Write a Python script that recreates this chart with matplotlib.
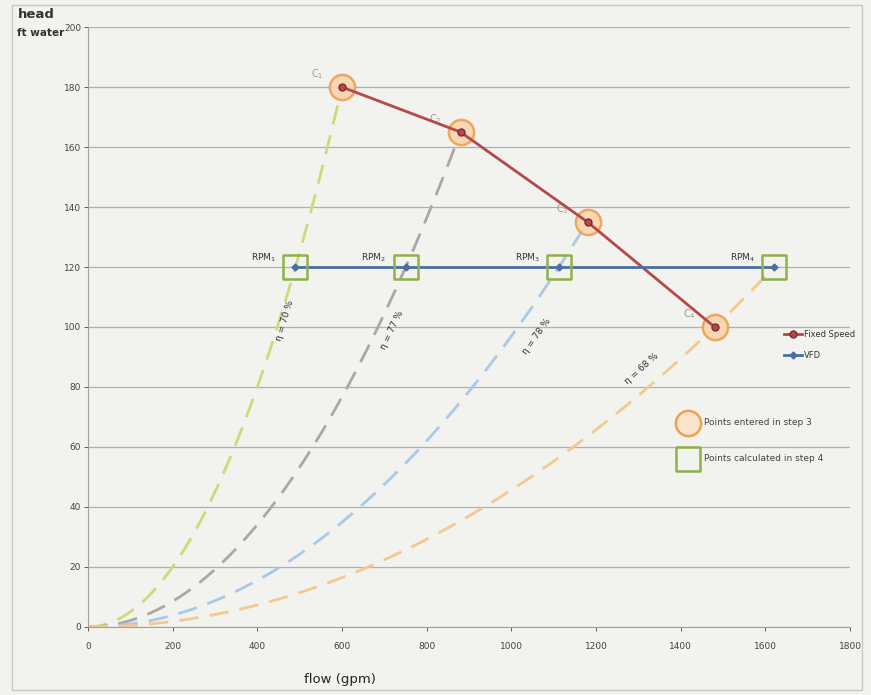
import numpy as np
import matplotlib
matplotlib.use("Agg")
import matplotlib.pyplot as plt
from matplotlib.patches import Rectangle

# Pump data
fixed_flow = [600, 880, 1180, 1480]          # gpm, fixed-speed operating points
fixed_head = [180, 165, 135, 100]            # ft water
point_names = [r"C$_1$", r"C$_2$", r"C$_3$", r"C$_4$"]
rpm_names = [r"RPM$_1$", r"RPM$_2$", r"RPM$_3$", r"RPM$_4$"]
efficiency = [70, 77, 78, 68]                # % along each affinity curve
vfd_head = 120                               # ft water, VFD set point

x_ticks = [0, 200, 400, 600, 800, 1000, 1200, 1400, 1600, 1800]
y_ticks = [0, 20, 40, 60, 80, 100, 120, 140, 160, 180, 200]

# Where the efficiency notes sit (flow, head)
eff_label_flow = [465, 718, 1060, 1307]
eff_label_head = [102, 99, 97, 86]

# VFD flows from the affinity law H ~ Q^2
fixed_flow_a = np.array(fixed_flow, float)
fixed_head_a = np.array(fixed_head, float)
vfd_flow = fixed_flow_a * np.sqrt(vfd_head / fixed_head_a)

bg = "#f2f2ef"
fig = plt.figure(figsize=(8.71, 6.95), dpi=100, facecolor=bg)
ax = fig.add_axes([0.101, 0.098, 0.875, 0.863], facecolor=bg)
ax.set_xlim(0, 1800)
ax.set_ylim(0, 200)

ax.set_yticks(y_ticks)
ax.set_xticks(x_ticks)
ax.set_yticklabels([str(v) for v in y_ticks])
ax.set_xticklabels([str(v) for v in x_ticks])
ax.tick_params(axis="both", labelsize=6.5, colors="#444444", length=3, width=0.6)
ax.tick_params(axis="x", pad=8)
ax.tick_params(axis="y", pad=2)
ax.grid(axis="y", color="#b0b0b0", linewidth=0.9)
ax.set_axisbelow(True)
for side in ("top", "right"):
    ax.spines[side].set_visible(False)
ax.spines["left"].set_color("#a0a0a0")
ax.spines["bottom"].set_color("#a0a0a0")

# Affinity curves through each fixed-speed point
curve_colors = ["#cfd97a", "#a8a8a8", "#a9c9e6", "#f3c990"]
for i in range(4):
    k = fixed_head_a[i] / fixed_flow_a[i] ** 2
    qmax = max(fixed_flow_a[i], vfd_flow[i])
    q = np.linspace(0, qmax, 200)
    ax.plot(q, k * q ** 2, color=curve_colors[i], lw=2.0,
            dashes=(7, 4), zorder=2)

# Operating lines
ax.plot(fixed_flow, fixed_head, color="#b5484a", lw=2.0, marker="o",
        ms=5, mfc="#b5484a", mec="#7a2a2a", zorder=4, label="Fixed Speed")
ax.plot(vfd_flow, [vfd_head] * 4, color="#4a6fa0", lw=2.0, marker="D",
        ms=3.5, mfc="#4a6fa0", zorder=4, label="VFD")

# Highlight markers
ax.scatter(fixed_flow, fixed_head, s=330, facecolor="#f9d4b0",
           edgecolor="#f0a050", linewidth=1.8, zorder=3, alpha=0.9)
ax.scatter(vfd_flow, [vfd_head] * 4, s=300, marker="s", facecolor="none",
           edgecolor="#8fb04a", linewidth=1.8, zorder=5)

for i in range(4):
    ax.annotate(point_names[i], (fixed_flow[i], fixed_head[i]),
                xytext=(-18, 9), textcoords="offset points",
                fontsize=7, color="#9a9a9a", ha="center", va="center")
    ax.annotate(rpm_names[i], (vfd_flow[i], vfd_head),
                xytext=(-23, 7), textcoords="offset points",
                fontsize=6.5, color="#333333", ha="center", va="center")

# Efficiency labels, turned to follow their curves
for i in range(4):
    k = fixed_head_a[i] / fixed_flow_a[i] ** 2
    h0 = eff_label_head[i]
    qc = np.sqrt(h0 / k)
    p1 = ax.transData.transform((qc, k * qc ** 2))
    p2 = ax.transData.transform((qc + 10, k * (qc + 10) ** 2))
    ang = np.degrees(np.arctan2(p2[1] - p1[1], p2[0] - p1[0]))
    ax.text(eff_label_flow[i], h0, f"η = {efficiency[i]} %", rotation=ang,
            rotation_mode="anchor", fontsize=6.5, color="#333333",
            ha="center", va="center")

leg = ax.legend(loc="upper left", bbox_to_anchor=(0.905, 0.505),
                frameon=False, fontsize=6, handlelength=2.2,
                labelspacing=1.5, borderpad=0.2, handletextpad=0.3)
for t in leg.get_texts():
    t.set_color("#333333")

# Marker key
ax.scatter([1418], [68], s=330, facecolor="#fbe3cc", edgecolor="#f0a050",
           linewidth=1.8, clip_on=False, zorder=5)
ax.text(1455, 68, "Points entered in step 3", fontsize=6.5,
        color="#444444", va="center")
ax.scatter([1418], [56], s=300, marker="s", facecolor="none",
           edgecolor="#8fb04a", linewidth=1.8, clip_on=False, zorder=5)
ax.text(1455, 56, "Points calculated in step 4", fontsize=6.5,
        color="#444444", va="center")

fig.text(0.021, 0.979, "head", fontsize=9.5, color="#333333",
         ha="left", va="center", fontweight="bold")
fig.text(0.020, 0.953, "ft water", fontsize=7.5, color="#333333",
         ha="left", va="center", fontweight="bold")
fig.text(0.39, 0.022, "flow (gpm)", fontsize=9.5, color="#222222",
         ha="center", va="center")

fig.add_artist(Rectangle((0.014, 0.007), 0.976, 0.986, transform=fig.transFigure,
                         fill=False, edgecolor="#c8c8c8", linewidth=1.0))

fig.savefig("out.png", dpi=100, facecolor=bg)
